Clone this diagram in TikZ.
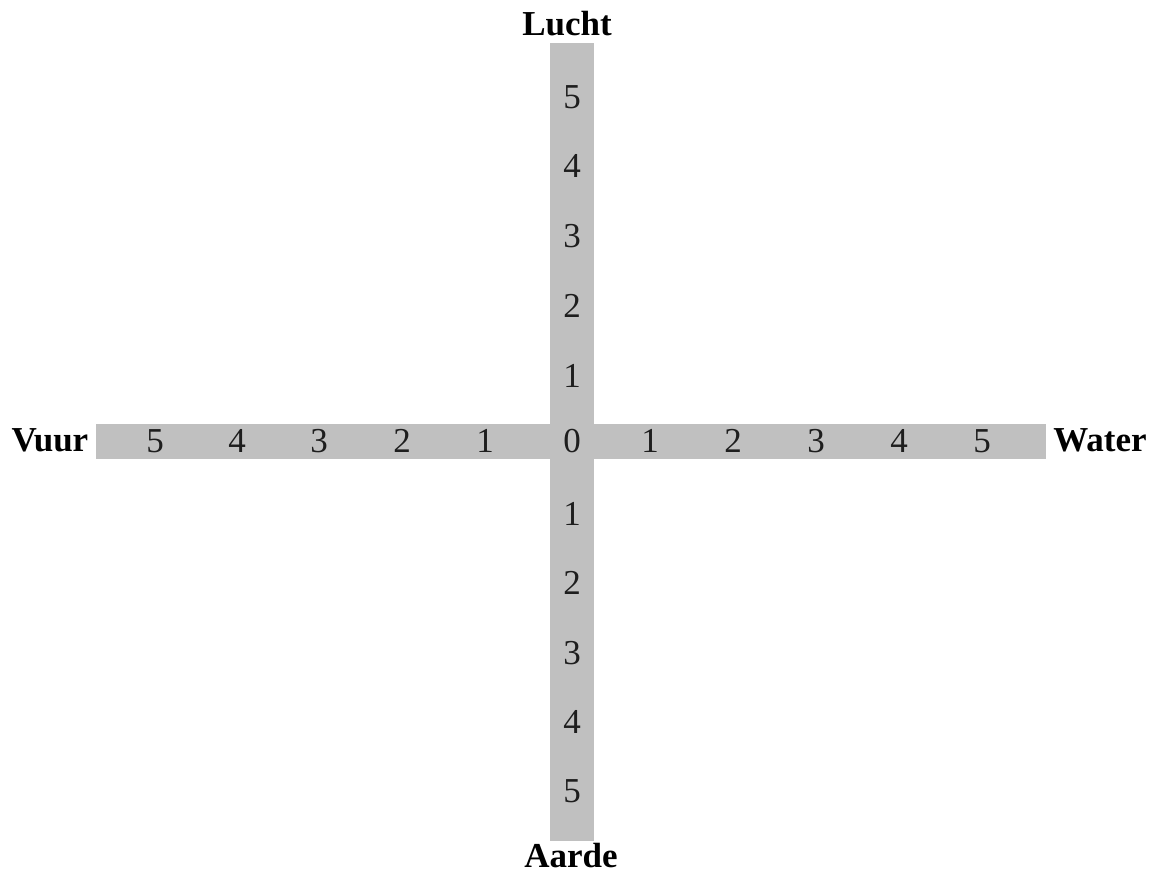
\documentclass[tikz,border=0pt]{standalone}
\usepackage{fontspec}
\setmainfont{Liberation Serif}
\definecolor{barcol}{RGB}{192,192,192}
\definecolor{numcol}{RGB}{30,30,30}
\begin{document}
\begin{tikzpicture}[x=1pt,y=-1pt,
  num/.style={font=\fontsize{35}{35}\selectfont, text=numcol, inner sep=0pt},
  lab/.style={font=\fontsize{35}{35}\selectfont\bfseries, text=black, inner sep=0pt}]
\useasboundingbox (0,0) rectangle (1161,878);
\fill[barcol] (96,424) rectangle (1046,459);
\fill[barcol] (550,43) rectangle (594,841);
% horizontal numbers
\node[num] (h0) at (572,441) {0};
\node[num] (l5) at (155,441) {5};
\node[num] (l4) at (237,441) {4};
\node[num] (l3) at (319,441) {3};
\node[num] (l2) at (402,441) {2};
\node[num] (l1) at (485,441) {1};
\node[num] (r1) at (650,441) {1};
\node[num] (r2) at (733,441) {2};
\node[num] (r3) at (816,441) {3};
\node[num] (r4) at (899,441) {4};
\node[num] (r5) at (982,441) {5};
% vertical numbers
\node[num] (u5) at (572,97) {5};
\node[num] (u4) at (572,166) {4};
\node[num] (u3) at (572,236) {3};
\node[num] (u2) at (572,306) {2};
\node[num] (u1) at (572,376) {1};
\node[num] (d1) at (572,514) {1};
\node[num] (d2) at (572,583) {2};
\node[num] (d3) at (572,653) {3};
\node[num] (d4) at (572,722) {4};
\node[num] (d5) at (572,791) {5};
% labels
\node[lab] (vuur) at (50,440) {Vuur};
\node[lab] (water) at (1100,440) {Water};
\node[lab] (lucht) at (567,24) {Lucht};
\node[lab] (aarde) at (571,856) {Aarde};
\end{tikzpicture}
\end{document}
